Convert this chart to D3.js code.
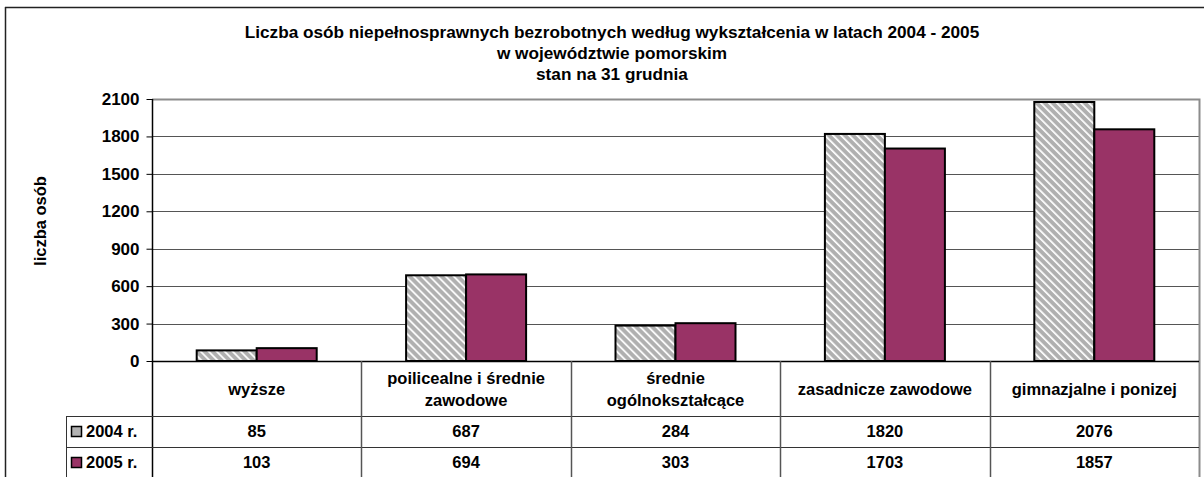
<!DOCTYPE html>
<html>
<head>
<meta charset="utf-8">
<script src="https://cdn.jsdelivr.net/npm/d3@7"></script>
<style>
  body { margin: 0; background: #fff; }
  svg text { font-family: "Liberation Sans", Arial, sans-serif; font-weight: bold; fill: #000; }
</style>
</head>
<body>
<div id="chart"></div>
<script>
// data
const categories = [
  ['wyższe'],
  ['poilicealne i średnie', 'zawodowe'],
  ['średnie', 'ogólnokształcące'],
  ['zasadnicze zawodowe'],
  ['gimnazjalne i ponizej']
];
const seriesNames = ['2004 r.', '2005 r.'];
const values2004 = [85, 687, 284, 1820, 2076];
const values2005 = [103, 694, 303, 1703, 1857];
const yTicks = [0, 300, 600, 900, 1200, 1500, 1800, 2100];
const titleLines = [
  'Liczba osób niepełnosprawnych bezrobotnych według wykształcenia w latach 2004 - 2005',
  'w województwie pomorskim',
  'stan na 31 grudnia'
];

const width = 1204, height = 477;
const plot = { left: 152, right: 1199, top: 99, bottom: 361 };
const tableRows = [361, 416, 447, 478];
const legendLeft = 66;
const fontSize = 16.5;

const svg = d3.select('#chart').append('svg')
  .attr('width', width)
  .attr('height', height);

// hatch pattern for 2004 (diagonal white stripes on gray)
const defs = svg.append('defs');
const hp = 5.66;
const pat = defs.append('pattern')
  .attr('id', 'hatch')
  .attr('patternUnits', 'userSpaceOnUse')
  .attr('width', hp)
  .attr('height', hp)
  .attr('patternTransform', 'rotate(-45)');
pat.append('rect').attr('width', hp).attr('height', hp).attr('fill', '#b0b0b0');
pat.append('rect').attr('x', 0).attr('width', 1.7).attr('height', hp).attr('fill', '#fff');

const fills = ['url(#hatch)', '#993366'];

// outer frame
svg.append('line').attr('x1', 5).attr('x2', width).attr('y1', 7.5).attr('y2', 7.5)
  .attr('stroke', '#222').attr('stroke-width', 1.5);
svg.append('line').attr('x1', 5.5).attr('x2', 5.5).attr('y1', 7).attr('y2', height)
  .attr('stroke', '#222').attr('stroke-width', 1.5);

// title
svg.append('g').selectAll('text')
  .data(titleLines)
  .join('text')
  .attr('x', 612)
  .attr('y', (d, i) => 38 + i * 21)
  .attr('text-anchor', 'middle')
  .attr('font-size', 17.2)
  .text(d => d);

// scales
const x = d3.scaleBand()
  .domain(d3.range(categories.length))
  .range([plot.left, plot.right]);
const xSub = d3.scaleBand()
  .domain([0, 1])
  .range([0, x.bandwidth()])
  .paddingOuter(0.745)
  .paddingInner(0);
const y = d3.scaleLinear()
  .domain([0, 2100])
  .range([plot.bottom, plot.top]);

// gridlines
svg.append('g').selectAll('line')
  .data(yTicks.filter(t => t > 0 && t < 2100))
  .join('line')
  .attr('x1', plot.left).attr('x2', plot.right)
  .attr('y1', d => Math.round(y(d)) + 0.5).attr('y2', d => Math.round(y(d)) + 0.5)
  .attr('stroke', '#555').attr('stroke-width', 1);

// plot border (gray top & right)
svg.append('path')
  .attr('d', `M${plot.left},${plot.top + 0.5}H${plot.right + 0.5}V${tableRows[3]}`)
  .attr('fill', 'none').attr('stroke', '#8c8c8c').attr('stroke-width', 2);

// bars
const series = [values2004, values2005];
const barG = svg.append('g');
series.forEach((vals, si) => {
  barG.append('g').selectAll('rect')
    .data(vals)
    .join('rect')
    .attr('x', (d, i) => x(i) + xSub(si))
    .attr('y', d => y(d))
    .attr('width', xSub.bandwidth())
    .attr('height', d => y(0) - y(d))
    .attr('fill', fills[si])
    .attr('stroke', '#000')
    .attr('stroke-width', 2);
});

// y axis
const yAxis = d3.axisLeft(y).tickValues(yTicks).tickSize(6).tickPadding(7).tickFormat(d3.format('d'));
const yg = svg.append('g')
  .attr('transform', `translate(${plot.left + 0.5},0)`)
  .call(yAxis);
yg.select('.domain').attr('stroke', '#000').attr('stroke-width', 1.5);
yg.selectAll('.tick line').attr('stroke', '#000');
yg.selectAll('.tick text')
  .attr('font-size', 17)
  .attr('font-family', '"Liberation Sans", Arial, sans-serif')
  .attr('font-weight', 'bold');
yg.select('.domain').attr('d', `M0,${plot.top}V${tableRows[3]}`);

// y axis title
svg.append('text')
  .attr('transform', `translate(46,221) rotate(-90)`)
  .attr('text-anchor', 'middle')
  .attr('font-size', fontSize)
  .text('liczba osób');

// data table lines
const tg = svg.append('g');
tg.append('line').attr('x1', plot.left).attr('x2', plot.right)
  .attr('y1', tableRows[0] + 0.5).attr('y2', tableRows[0] + 0.5)
  .attr('stroke', '#000').attr('stroke-width', 1.5);
[tableRows[1], tableRows[2]].forEach(ty => {
  tg.append('line').attr('x1', legendLeft).attr('x2', plot.right)
    .attr('y1', ty + 0.5).attr('y2', ty + 0.5)
    .attr('stroke', '#333').attr('stroke-width', 1);
});
tg.append('line').attr('x1', legendLeft + 0.5).attr('x2', legendLeft + 0.5)
  .attr('y1', tableRows[1]).attr('y2', height)
  .attr('stroke', '#333').attr('stroke-width', 1);
tg.selectAll('line.div')
  .data(d3.range(1, categories.length))
  .join('line')
  .attr('class', 'div')
  .attr('x1', i => Math.round(x(i)) + 0.5).attr('x2', i => Math.round(x(i)) + 0.5)
  .attr('y1', tableRows[0]).attr('y2', height)
  .attr('stroke', '#555').attr('stroke-width', 1.5);

// category labels
const catG = svg.append('g');
categories.forEach((lines, i) => {
  const cx = x(i) + x.bandwidth() / 2;
  const mid = (tableRows[0] + tableRows[1]) / 2;
  lines.forEach((ln, j) => {
    catG.append('text')
      .attr('x', cx)
      .attr('y', mid + 6 + (j - (lines.length - 1) / 2) * 22)
      .attr('text-anchor', 'middle')
      .attr('font-size', fontSize)
      .text(ln);
  });
});

// value rows + legend
series.forEach((vals, si) => {
  const mid = (tableRows[si + 1] + tableRows[si + 2]) / 2;
  svg.append('g').selectAll('text')
    .data(vals)
    .join('text')
    .attr('x', (d, i) => x(i) + x.bandwidth() / 2)
    .attr('y', mid + 5.5)
    .attr('text-anchor', 'middle')
    .attr('font-size', fontSize)
    .text(d => d);
  svg.append('rect')
    .attr('x', 71.5).attr('y', mid - 5)
    .attr('width', 10).attr('height', 10)
    .attr('fill', si === 0 ? '#b2b2b2' : fills[1])
    .attr('stroke', '#000').attr('stroke-width', 1.5);
  svg.append('text')
    .attr('x', 86)
    .attr('y', mid + 5.5)
    .attr('font-size', fontSize)
    .text(seriesNames[si]);
});
</script>
</body>
</html>
